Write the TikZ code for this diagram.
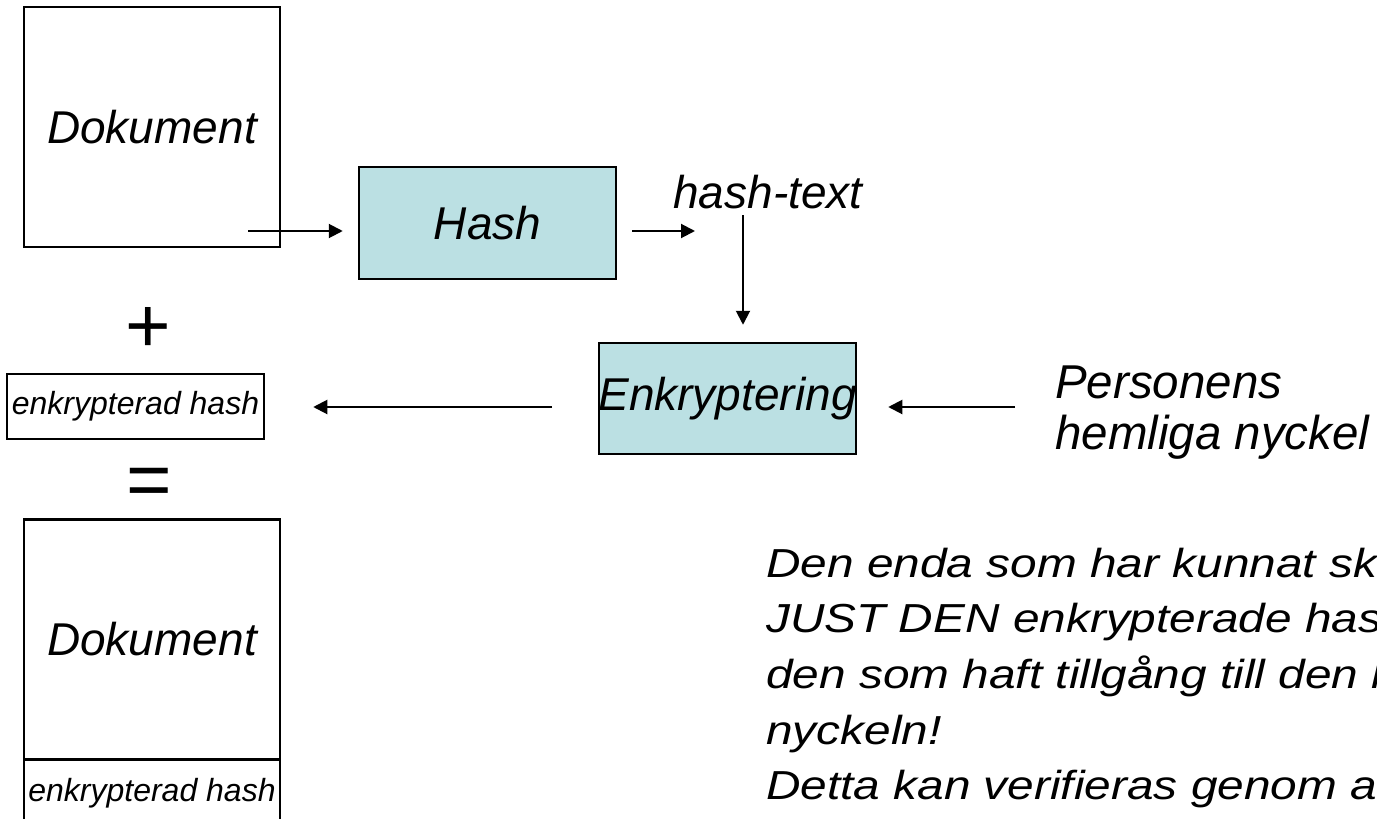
\documentclass[tikz,border=0pt]{standalone}
\usepackage{fontspec}
\setmainfont{Liberation Sans}
\newfontfamily\notefont{Liberation Sans}[FakeStretch=1.18]
\usetikzlibrary{arrows.meta}
\definecolor{hashblue}{RGB}{187,224,227}
\tikzset{
  docbox/.style={draw=black, line width=2.5pt, inner sep=0pt, minimum width=256pt, font=\fontsize{46}{50}\selectfont\itshape},
  procbox/.style={draw=black, fill=hashblue, line width=2.5pt, inner sep=0pt, minimum width=257pt, minimum height=111pt, font=\fontsize{46}{50}\selectfont\itshape},
  smallbox/.style={draw=black, line width=2.5pt, inner sep=0pt, minimum width=257pt, font=\fontsize{32}{36}\selectfont\itshape},
  plaintext/.style={inner sep=0pt, font=\fontsize{46}{51}\selectfont\itshape},
  sign/.style={inner sep=0pt, font=\fontsize{78}{80}\selectfont},
  flow/.style={line width=2pt, -{Triangle[length=14pt,width=14pt]}}
}
\begin{document}
\begin{tikzpicture}[x=1pt, y=-1pt]
            \clip (0,0) rectangle (1377,819);

            \node[docbox, minimum height=240pt] (doc) at (152,127) {Dokument};
            \node[procbox, minimum height=112pt] (hash) at (487.5,223) {Hash};
            \node[plaintext, anchor=base] (hashtext) at (768,208) {hash-text};
            \node[procbox] (enk) at (727.5,398.5) {\makebox[0pt]{Enkryptering}};
            \node[plaintext, font=\fontsize{47.5}{51}\selectfont\itshape, align=left, anchor=north west] (key) at (1055,366) {Personens\\hemliga nyckel};

            \node[sign] (plus) at (148,330) {+};
            \node[smallbox, minimum height=65pt] (enchash) at (135.5,406.5) {enkrypterad hash};
            \node[sign] (eq) at (149,487) {=};

            \node[docbox, minimum height=240pt, anchor=north] (doc2) at (152,518) {Dokument};
            \node[smallbox, minimum width=256pt, minimum height=68pt, anchor=north] (enchash2) at ([yshift=2.5pt]doc2.south) {enkrypterad hash};

            \node[inner sep=0pt, font={\notefont\fontsize{40.5}{55.7}\selectfont\itshape}, align=left, anchor=north west] (note) at (766,547.5)
                {Den enda som har kunnat sk\\JUST DEN enkrypterade has\\den som haft tillgång till den h\\nyckeln!\\Detta kan verifieras genom a};

            \coordinate (a1) at (248,231);
            \coordinate (a2) at (695,231);
            \coordinate (a3) at (743,215);
            \coordinate (a4) at (1015,407);
            \coordinate (a5) at (552,407);

            \draw[flow, shorten >=15pt] (a1) -- (a1 -| hash.west);
            \draw[flow, shorten <=15pt] (hash.east |- a2) -- (a2);
            \draw[flow, shorten >=17pt] (a3) -- (a3 |- enk.north);
            \draw[flow, shorten >=31pt] (a4) -- (a4 -| enk.east);
            \draw[flow, shorten >=48pt] (a5) -- (a5 -| enchash.east);
        \end{tikzpicture}
\end{document}
